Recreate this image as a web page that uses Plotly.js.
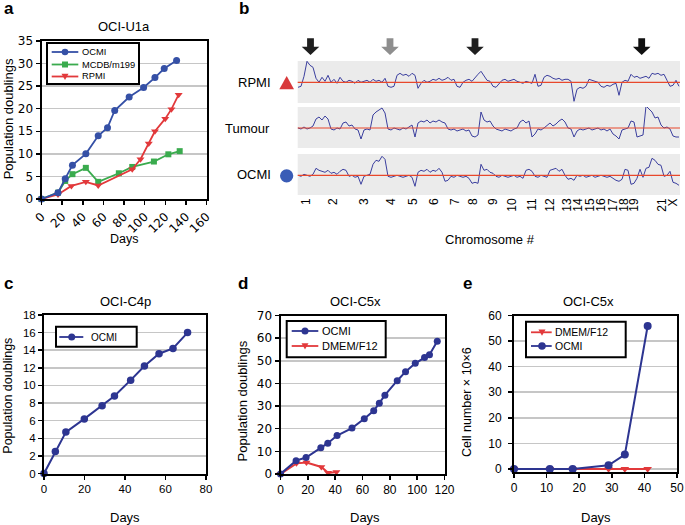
<!DOCTYPE html>
<html><head><meta charset="utf-8">
<script src="https://cdn.plot.ly/plotly-3.0.1.min.js"></script>
<style>html,body{margin:0;padding:0;background:#fff;}#chart{width:685px;height:525px;}</style>
</head><body><div id="chart"></div>
<script>
// ---------------- DATA ----------------
// Panel a: OCI-U1a
const aDaysOCMI = [0,16,23,30,43,55,64,71,85,99,110,119,131];
const aPdOCMI   = [0,1.4,4.5,7.5,10.0,14.0,15.8,19.6,22.6,24.7,26.9,28.9,30.7];
const aDaysMCDB = [0,16,23,30,43,55,75,88,109,123,134];
const aPdMCDB   = [0,1.4,4.0,5.5,6.9,3.8,5.7,7.1,8.3,9.9,10.6];
const aDaysRPMI = [0,16,29,43,55,88,96,104,110,120,126,133];
const aPdRPMI   = [0,1.0,2.9,3.8,3.0,6.6,8.8,12.3,15.0,17.8,19.9,23.1];

// Panel b: copy-number profiles (relative level per genome bin)
const chromLabels = ['1','2','3','4','5','6','7','8','9','10','11','12','13','14','15','16','17','18','19','21','X'];
const chromPos    = [2.7,11.7,22,31,38.3,45.3,52.3,58.3,65,71.3,78,84,89.7,93.3,97.3,101,105,108.7,112,121.3,125];
const cnRPMI = [-5,-4,6,21,17,15,4,0,5,1, 7,0,3,-1,5,1,0,2,1,-1, 2,0,1,2,0,3,1,2,0,4,
  -4,-5,-4,7,9,7,8,6,9,7, -6,-1,2,0,1,3,2,4,2,3, 5,2,3,-4,-5,0,2,3,1,5, 8,11,6,2,1,-4,-5,-2,2,3,
  1,2,3,1,0,-1,1,0,-1,8, -4,-3,5,7,6,4,3,4,2,3, 3,1,-19,-7,-5,-6,-4,3,2,1, 0,-4,-5,-3,-4,-2,-1,-13,0,2,
  1,8,5,6,4,5,6,4,9,8, 9,7,8,2,-4,-3,2,-4];
const cnTumour = [0,-1,1,-1,0,2,9,11,8,12, 9,-1,-2,0,-1,5,6,2,3,-1, -2,-11,-2,-1,-2,13,16,18,20,15,
  -1,-2,0,-1,-2,0,-1,1,3,-9, 5,7,6,8,5,7,6,8,6,5, -1,-2,-1,-3,-2,-1,-3,-2,-8,-9, -7,16,8,6,7,2,-1,-2,-3,-1,
  -2,-3,-1,0,6,8,5,7,-9,-6, -1,-2,0,3,5,2,4,7,9,6, 0,-1,-9,-3,-1,-2,-1,0,-2,-1, 0,-2,-1,-3,-1,-6,-8,-11,-2,-1,
  0,7,6,-9,-8,-7,22,19,16,10, 11,3,0,1,-1,-8,-9,-9];
const cnOCMI = [0,-1,1,0,-1,1,7,5,4,3, 5,2,3,1,4,6,5,-1,0,-2, -1,-9,-1,0,1,11,15,14,19,16,
  -1,-2,-1,0,-1,-2,-1,0,-2,-11, 3,5,4,6,3,5,4,7,3,-6, -5,-1,-2,0,-1,-2,-1,-3,-8,-7, -8,11,5,6,3,2,-1,-2,0,-1,
  -2,-1,0,-2,-1,-3,5,6,4,-1, -2,0,-1,-2,5,6,7,4,6,0, -4,-3,-5,0,-1,0,-2,-1,0,-2, -1,0,-1,-2,-1,-3,-5,-6,-4,6,
  5,-9,-8,-3,6,-2,7,8,17,15, 11,10,-1,0,4,-7,-8,-10];

// Panel c: OCI-C4p
const cDays = [0,5.6,10.8,19.9,28.7,34.8,42.8,49.6,56.8,63.7,70.9];
const cPd   = [0,2.5,4.7,6.2,7.7,8.8,10.6,12.2,13.6,14.2,16.0];

// Panel d: OCI-C5x population doublings
const dDaysOCMI = [0,11.4,18.7,29.5,34.6,41.4,52.3,61.3,68.2,72.3,76.4,85.4,91.5,98.6,105.4,109,114.7];
const dPdOCMI   = [0,5.9,7.3,11.6,13.6,17.0,20.3,24.4,27.9,31.3,34.8,41.2,45.2,48.9,51.4,52.7,58.6];
const dDaysDMEM = [0,11.7,19,29.9,34.8,40.9];
const dPdDMEM   = [0,4.7,5.1,3.1,0.5,0.9];

// Panel e: OCI-C5x cell number
const eDaysDMEM  = [0,11,18,29,34,41];
const eCellsDMEM = [0,0,0,0,0,0];
const eDaysOCMI  = [0,11,18,29,34,41];
const eCellsOCMI = [0,0,0,1.4,5.6,55.9];

// ---------------- STYLE / LAYOUT ----------------
const W = 685, H = 525;
const X = v => v / W;
const Y = v => 1 - v / H;
const FONT = 'Liberation Sans, Arial, Helvetica, sans-serif';
const WIDE = 'DejaVu Sans, Liberation Sans, sans-serif';
const BLUE_A = '#3550a6', GREEN = '#3aab4e', RED = '#e2393b', NAVY = '#2d3591';
const CN_BLUE = '#3b3f9e', CN_RED = '#e8482c';

function frameAxis(extra) {
  return Object.assign({
    showline: true, mirror: true, linecolor: '#000', linewidth: 2,
    ticks: 'outside', ticklen: 4, tickwidth: 1.5, tickcolor: '#000',
    showgrid: false, zeroline: false, fixedrange: true,
    tickfont: {family: FONT, size: 11.5, color: '#000'}
  }, extra);
}
function gridY(extra) {
  return frameAxis(Object.assign({showgrid: true, gridcolor: '#c6c6c6', gridwidth: 1.5}, extra));
}
function ser(x, y, xa, ya, color, symbol, msize, lw) {
  return {x: x, y: y, xaxis: xa, yaxis: ya, type: 'scatter', mode: 'lines+markers',
    line: {color: color, width: lw}, marker: {color: color, symbol: symbol, size: msize},
    cliponaxis: false, hoverinfo: 'skip'};
}
const bins = cnRPMI.map((_, i) => i);
function cn(y, ya) {
  return {x: bins, y: y, xaxis: 'x2', yaxis: ya, type: 'scatter', mode: 'lines',
    line: {color: CN_BLUE, width: 1}, hoverinfo: 'skip'};
}

const data = [
  ser(aDaysMCDB, aPdMCDB, 'x', 'y', GREEN, 'square', 6, 1.8),
  ser(aDaysRPMI, aPdRPMI, 'x', 'y', RED, 'triangle-down', 7, 1.8),
  ser(aDaysOCMI, aPdOCMI, 'x', 'y', BLUE_A, 'circle', 7, 1.8),
  cn(cnRPMI, 'y2'), cn(cnTumour, 'y3'), cn(cnOCMI, 'y4'),
  ser(cDays, cPd, 'x3', 'y5', NAVY, 'circle', 7.5, 2),
  ser(dDaysDMEM, dPdDMEM, 'x4', 'y6', RED, 'triangle-down', 7, 2),
  ser(dDaysOCMI, dPdOCMI, 'x4', 'y6', NAVY, 'circle', 7, 2),
  ser(eDaysDMEM, eCellsDMEM, 'x5', 'y7', RED, 'triangle-down', 7.5, 2),
  ser(eDaysOCMI, eCellsOCMI, 'x5', 'y7', NAVY, 'circle', 8, 2)
];

const shapes = [];
const annotations = [];
function txt(text, x, y, size, opts) {
  annotations.push(Object.assign({text: text, x: X(x), y: Y(y), xref: 'paper', yref: 'paper',
    showarrow: false, font: {family: FONT, size: size, color: '#000'},
    xanchor: 'center', yanchor: 'middle'}, opts || {}));
}
// panel b backgrounds and baselines
['y2', 'y3', 'y4'].forEach(ya => {
  shapes.push({type: 'rect', xref: 'x2 domain', yref: ya + ' domain', x0: 0, x1: 1, y0: 0, y1: 1,
    fillcolor: '#ebebeb', line: {width: 0}, layer: 'below'});
  shapes.push({type: 'line', xref: 'x2 domain', yref: ya, x0: 0, x1: 1, y0: 0, y1: 0,
    line: {color: CN_RED, width: 1.2}, layer: 'above'});
});
// arrows above panel b
[[310.5, '#1f1f1f'], [390, '#8e8e8e'], [475, '#1f1f1f'], [641.7, '#111']].forEach(([cx, col]) => {
  const pts = [[cx - 3.4, 38.3], [cx + 3.4, 38.3], [cx + 3.4, 46.7], [cx + 8.8, 46.7], [cx, 55],
               [cx - 8.8, 46.7], [cx - 3.4, 46.7]];
  const p = 'M' + pts.map(q => X(q[0]) + ',' + Y(q[1])).join(' L') + ' Z';
  shapes.push({type: 'path', xref: 'paper', yref: 'paper', path: p, fillcolor: col, line: {width: 0}});
});
// sample markers in panel b
{
  const p = 'M' + X(279.3) + ',' + Y(89.3) + ' L' + X(294) + ',' + Y(89.3) + ' L' + X(286.7) + ',' + Y(76) + ' Z';
  shapes.push({type: 'path', xref: 'paper', yref: 'paper', path: p, fillcolor: '#d8393b', line: {width: 0}});
  shapes.push({type: 'circle', xref: 'paper', yref: 'paper', x0: X(280), x1: X(293.3), y0: Y(182.5), y1: Y(169.2),
    fillcolor: '#3a5cb6', line: {width: 0}});
}
// legends
function legend(box, entries, fs, lx0, lx1, mx, tx) {
  shapes.push({type: 'rect', xref: 'paper', yref: 'paper', x0: X(box[0]), x1: X(box[1]), y0: Y(box[3]), y1: Y(box[2]),
    fillcolor: '#fff', line: {color: '#000', width: 2}, layer: 'above'});
  entries.forEach(e => {
    const y = e.y, r = e.r;
    shapes.push({type: 'line', xref: 'paper', yref: 'paper', x0: X(lx0), x1: X(lx1), y0: Y(y), y1: Y(y),
      line: {color: e.color, width: 1.8}});
    if (e.symbol === 'circle') {
      shapes.push({type: 'circle', xref: 'paper', yref: 'paper', x0: X(mx - r), x1: X(mx + r), y0: Y(y + r), y1: Y(y - r),
        fillcolor: e.color, line: {width: 0}});
    } else if (e.symbol === 'square') {
      shapes.push({type: 'rect', xref: 'paper', yref: 'paper', x0: X(mx - r), x1: X(mx + r), y0: Y(y + r), y1: Y(y - r),
        fillcolor: e.color, line: {width: 0}});
    } else {
      const p = 'M' + X(mx - r) + ',' + Y(y - r * 0.8) + ' L' + X(mx + r) + ',' + Y(y - r * 0.8) + ' L' + X(mx) + ',' + Y(y + r) + ' Z';
      shapes.push({type: 'path', xref: 'paper', yref: 'paper', path: p, fillcolor: e.color, line: {width: 0}});
    }
    txt(e.name, tx, y, fs, {xanchor: 'left'});
  });
}
legend([47, 139, 43, 84], [
  {name: 'OCMI', color: BLUE_A, symbol: 'circle', y: 52, r: 3.3},
  {name: 'MCDB/m199', color: GREEN, symbol: 'square', y: 64.5, r: 3},
  {name: 'RPMI', color: RED, symbol: 'tri', y: 76.5, r: 3.5}], 9.3, 51.7, 78.3, 65, 79.5);
legend([56, 136.7, 326.7, 346.7], [
  {name: 'OCMI', color: NAVY, symbol: 'circle', y: 337, r: 3.5}], 10, 59.3, 83.3, 71.7, 88.5);
legend([286.7, 385.7, 321, 357.3], [
  {name: 'OCMI', color: NAVY, symbol: 'circle', y: 331, r: 3.5},
  {name: 'DMEM/F12', color: RED, symbol: 'tri', y: 346, r: 3.5}], 11, 291.7, 318.3, 305, 319.5);
legend([526, 625.7, 321.7, 357.3], [
  {name: 'DMEM/F12', color: RED, symbol: 'tri', y: 332.3, r: 3.5},
  {name: 'OCMI', color: NAVY, symbol: 'circle', y: 346, r: 3.8}], 10.5, 531, 551.7, 542, 553);

// texts
txt('<b>a</b>', 2, 8, 17, {xanchor: 'left'});
txt('<b>b</b>', 237, 8, 17, {xanchor: 'left'});
txt('<b>c</b>', 2, 283, 17, {xanchor: 'left'});
txt('<b>d</b>', 236, 283, 17, {xanchor: 'left'});
txt('<b>e</b>', 461, 283, 17, {xanchor: 'left'});
txt('OCI-U1a', 124, 27, 13);
txt('OCI-C4p', 125, 301.7, 13);
txt('OCI-C5x', 355, 301.7, 13);
txt('OCI-C5x', 588, 301.7, 13);
txt('Population doublings', 8.3, 119, 13, {textangle: -90});
txt('Population doublings', 7.7, 396, 12.5, {textangle: -90});
txt('Population doublings', 241.5, 401, 13, {textangle: -90});
txt('Cell number × 10×6', 467, 402, 12.5, {textangle: -90});
txt('Days', 124, 239, 12.5);
txt('Days', 125, 517, 13);
txt('Days', 365, 517, 13);
txt('Days', 595.7, 517, 13);
txt('Chromosome #', 490, 239, 13);
txt('RPMI', 273, 82, 13, {xanchor: 'right'});
txt('Tumour', 272, 128, 13, {xanchor: 'right'});
txt('OCMI', 273, 175, 13, {xanchor: 'right'});

const trackAxis = (top, bot, range) => ({domain: [Y(bot), Y(top)], anchor: 'x2', range: range,
  showticklabels: false, showgrid: false, zeroline: false, showline: false, ticks: '', fixedrange: true});

const layout = {
  width: W, height: H, margin: {l: 0, r: 0, t: 0, b: 0},
  paper_bgcolor: '#fff', plot_bgcolor: 'rgba(0,0,0,0)', showlegend: false,
  font: {family: FONT, color: '#000'},
  xaxis: frameAxis({domain: [X(41.5), X(206.5)], anchor: 'y', range: [0, 160], dtick: 20, tickangle: -45,
    tickfont: {family: WIDE, size: 12, color: '#000'}}),
  yaxis: gridY({domain: [Y(199), Y(41)], anchor: 'x', range: [0, 35], dtick: 5,
    tickfont: {family: WIDE, size: 12, color: '#000'}}),
  xaxis2: {domain: [X(297.7), X(680)], anchor: 'y4', range: [-0.1, 127.33], tickmode: 'array',
    tickvals: chromPos, ticktext: chromLabels, tickangle: -90, showline: false, ticks: '', showgrid: false,
    zeroline: false, fixedrange: true, tickfont: {family: FONT, size: 12, color: '#000'}},
  yaxis2: trackAxis(61, 103, [-20.7, 21.3]),
  yaxis3: trackAxis(107, 148, [-20, 21]),
  yaxis4: trackAxis(154, 195, [-19.7, 21.3]),
  xaxis3: frameAxis({domain: [X(44), X(206)], anchor: 'y5', range: [0, 80], dtick: 20}),
  yaxis5: gridY({domain: [Y(473.5), Y(315)], anchor: 'x3', range: [0, 18], dtick: 2}),
  xaxis4: frameAxis({domain: [X(280.5), X(444.5)], anchor: 'y6', range: [0, 120], dtick: 20,
    tickfont: {family: FONT, size: 12, color: '#000'}}),
  yaxis6: gridY({domain: [Y(474), Y(315.5)], anchor: 'x4', range: [0, 70], dtick: 10,
    tickfont: {family: WIDE, size: 12, color: '#000'}}),
  xaxis5: frameAxis({domain: [X(514), X(677)], anchor: 'y7', range: [0, 50], dtick: 10,
    tickfont: {family: FONT, size: 12, color: '#000'}}),
  yaxis7: gridY({domain: [Y(471.5), Y(315.5)], anchor: 'x5', range: [-1, 60], tickvals: [0,10,20,30,40,50,60],
    tickfont: {family: FONT, size: 12, color: '#000'}, ticklabelstandoff: 4}),
  shapes: shapes, annotations: annotations
};
Plotly.newPlot('chart', data, layout, {displayModeBar: false, staticPlot: true});
</script></body></html>
